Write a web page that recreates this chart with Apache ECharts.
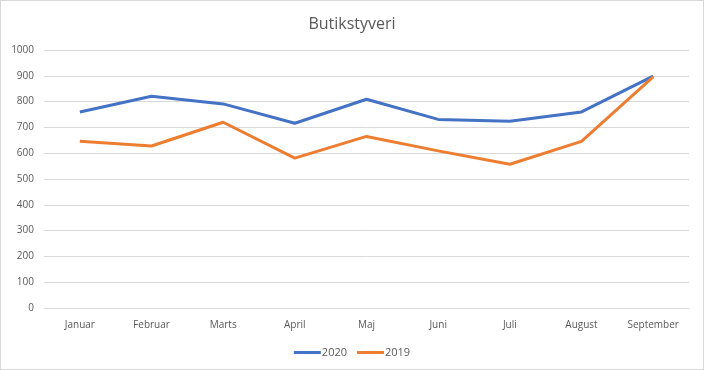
<!DOCTYPE html>
<html><head><meta charset="utf-8">
<script src="https://cdn.jsdelivr.net/npm/echarts@6/dist/echarts.min.js"></script>
<style>html,body{margin:0;padding:0;background:#fff}#c{width:704px;height:370px;box-sizing:border-box;border:1px solid #d9d9d9}</style>
</head><body><div id="c"></div>
<script>
const categories = ['Januar','Februar','Marts','April','Maj','Juni','Juli','August','September'];
const values2020 = [760, 821, 791, 716, 809, 731, 724, 760, 899];
const values2019 = [646, 628, 720, 581, 665, 609, 557, 646, 896];
const chart = echarts.init(document.getElementById('c'));
const txt = '#595959';
const font = 'Open Sans';
chart.setOption({
  animation: false,
  title: {text: 'Butikstyveri', left: 'center', top: 10, textStyle: {fontFamily: font, fontSize: 16, fontWeight: 'normal', color: txt}},
  legend: {bottom: 6, left: 'center', itemWidth: 27, itemHeight: 3, itemGap: 10, icon: 'rect',
    textStyle: {fontFamily: font, fontSize: 11, color: txt, padding: [0,0,0,-4]},
    data: ['2020','2019']},
  grid: {left: 43, right: 14, top: 49, bottom: 61},
  xAxis: {type: 'category', data: categories, boundaryGap: true,
    axisLine: {lineStyle: {color: '#d9d9d9'}}, axisTick: {show: false},
    axisLabel: {fontFamily: font, fontSize: 10, color: txt, margin: 12}},
  yAxis: {type: 'value', min: 0, max: 1000, interval: 100,
    axisLine: {show: false}, axisTick: {show: false},
    splitLine: {lineStyle: {color: '#d9d9d9'}},
    axisLabel: {fontFamily: font, fontSize: 10, color: txt, margin: 10, formatter: v => String(v)}},
  series: [
    {name: '2020', type: 'line', data: values2020, symbol: 'none', lineStyle: {width: 3, color: '#4472C4'}, itemStyle: {color: '#4472C4'}},
    {name: '2019', type: 'line', data: values2019, symbol: 'none', lineStyle: {width: 3, color: '#ED7D31'}, itemStyle: {color: '#ED7D31'}}
  ]
});
</script></body></html>
